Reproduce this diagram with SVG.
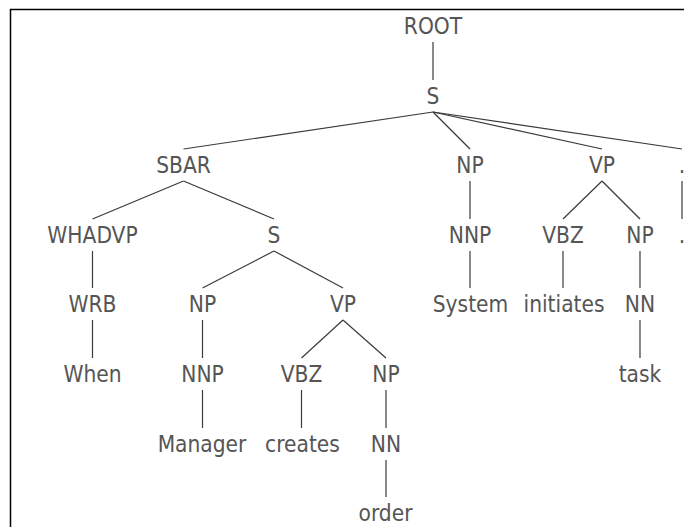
<svg xmlns="http://www.w3.org/2000/svg" width="684" height="527" viewBox="0 0 684 527">
<style>
text{font-family:"DejaVu Sans Condensed","DejaVu Sans",sans-serif;font-stretch:condensed;font-size:22.5px;fill:#555;text-anchor:middle}
.e line{stroke:#3a3a3a;stroke-width:1.2}
</style>
<rect width="684" height="527" fill="#fff"/>
<rect x="10.5" y="9.5" width="700" height="600" fill="none" stroke="#000" stroke-width="1.5"/>
<g id="connectors" class="e">
<line x1="433" y1="42" x2="433" y2="80"/>
<line x1="433" y1="112" x2="183.5" y2="149"/>
<line x1="433" y1="112" x2="470" y2="149"/>
<line x1="433" y1="112" x2="602" y2="149"/>
<line x1="433" y1="112" x2="682" y2="149"/>
<line x1="183.5" y1="181" x2="92.5" y2="219"/>
<line x1="183.5" y1="181" x2="274" y2="219"/>
<line x1="470" y1="181" x2="470" y2="219"/>
<line x1="602" y1="181" x2="563" y2="219"/>
<line x1="602" y1="181" x2="640" y2="219"/>
<line x1="682" y1="181" x2="682" y2="219"/>
<line x1="92.5" y1="251" x2="92.5" y2="288"/>
<line x1="274" y1="251" x2="202.5" y2="288"/>
<line x1="274" y1="251" x2="343" y2="288"/>
<line x1="470" y1="251" x2="470" y2="288"/>
<line x1="563" y1="251" x2="563" y2="288"/>
<line x1="640" y1="251" x2="640" y2="288"/>
<line x1="92.5" y1="320" x2="92.5" y2="358"/>
<line x1="202.5" y1="320" x2="202.5" y2="358"/>
<line x1="343" y1="320" x2="301.5" y2="358"/>
<line x1="343" y1="320" x2="386" y2="358"/>
<line x1="640" y1="320" x2="640" y2="358"/>
<line x1="202.5" y1="390" x2="202.5" y2="428"/>
<line x1="301.5" y1="390" x2="301.5" y2="428"/>
<line x1="386" y1="390" x2="386" y2="428"/>
<line x1="386" y1="460" x2="386" y2="497"/>
</g>
<g id="root"><text x="433" y="34">ROOT</text></g>
<g id="s1"><text x="433" y="104">S</text></g>
<g id="sbar"><text x="183.5" y="173">SBAR</text></g>
<g id="np1"><text x="470" y="173">NP</text></g>
<g id="vp1"><text x="602" y="173">VP</text></g>
<g id="punct"><text x="682" y="173">.</text></g>
<g id="whadvp"><text x="92.5" y="243">WHADVP</text></g>
<g id="s2"><text x="274" y="243">S</text></g>
<g id="nnp1"><text x="470" y="243">NNP</text></g>
<g id="vbz1"><text x="563" y="243">VBZ</text></g>
<g id="np2"><text x="640" y="243">NP</text></g>
<g id="punct-word"><text x="682" y="243">.</text></g>
<g id="wrb"><text x="92.5" y="312">WRB</text></g>
<g id="np3"><text x="202.5" y="312">NP</text></g>
<g id="vp2"><text x="343" y="312">VP</text></g>
<g id="system"><text x="470.5" y="312">System</text></g>
<g id="initiates"><text x="564" y="312">initiates</text></g>
<g id="nn1"><text x="640" y="312">NN</text></g>
<g id="when"><text x="92.5" y="382">When</text></g>
<g id="nnp2"><text x="202.5" y="382">NNP</text></g>
<g id="vbz2"><text x="301.5" y="382">VBZ</text></g>
<g id="np4"><text x="386" y="382">NP</text></g>
<g id="task"><text x="640" y="382">task</text></g>
<g id="manager"><text x="202" y="452">Manager</text></g>
<g id="creates"><text x="302.5" y="452">creates</text></g>
<g id="nn2"><text x="386" y="452">NN</text></g>
<g id="order"><text x="385.5" y="521">order</text></g>
</svg>
